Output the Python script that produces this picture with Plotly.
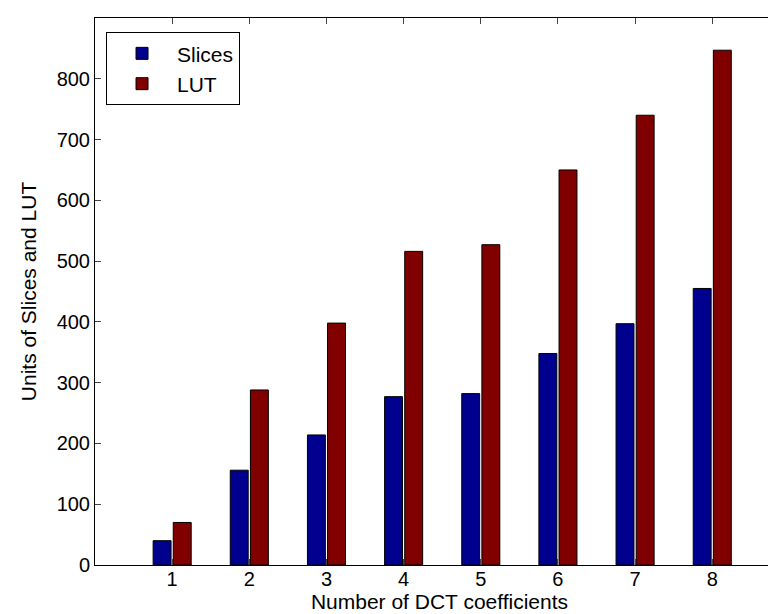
import plotly.graph_objects as go

coeffs = [1, 2, 3, 4, 5, 6, 7, 8]
slices = [40, 156, 214, 277, 282, 348, 397, 455]
lut = [70, 288, 398, 516, 527, 650, 740, 847]
y_ticks = [0, 100, 200, 300, 400, 500, 600, 700, 800, 900]

FONT = "Liberation Sans, Arial, sans-serif"

fig = go.Figure()
fig.add_trace(go.Bar(x=coeffs, y=slices, name="Slices",
                     marker=dict(color="#00008F", line=dict(color="black", width=1))))
fig.add_trace(go.Bar(x=coeffs, y=lut, name="LUT",
                     marker=dict(color="#800000", line=dict(color="black", width=1))))

fig.update_layout(
    width=776, height=614,
    margin=dict(l=87, r=0, t=10, b=57),
    paper_bgcolor="white", plot_bgcolor="white",
    font=dict(family=FONT, size=20, color="black"),
    barmode="group", bargap=0.478, bargroupgap=0.11,
    showlegend=True,
    legend=dict(x=0.016, y=0.974, xanchor="left", yanchor="top",
                bordercolor="black", borderwidth=1, bgcolor="white",
                font=dict(size=21), itemwidth=60, tracegroupgap=0),
    xaxis=dict(range=[0, 8.93], tickvals=coeffs, ticks="inside", ticklen=6,
               showline=True, linecolor="black", linewidth=1, mirror="ticks",
               showgrid=False, zeroline=False, tickfont=dict(size=20),
               ticklabelstandoff=-4,
               title=dict(text="Number of DCT coefficients", standoff=1,
                          font=dict(size=21))),
    yaxis=dict(range=[0, 900], tickvals=y_ticks, ticks="inside", ticklen=6,
               showline=True, linecolor="black", linewidth=1, mirror="ticks",
               showgrid=False, zeroline=False, tickfont=dict(size=20),
               title=dict(text="Units of Slices and LUT", standoff=14,
                          font=dict(size=21))),
)

fig.write_html("out.html")
